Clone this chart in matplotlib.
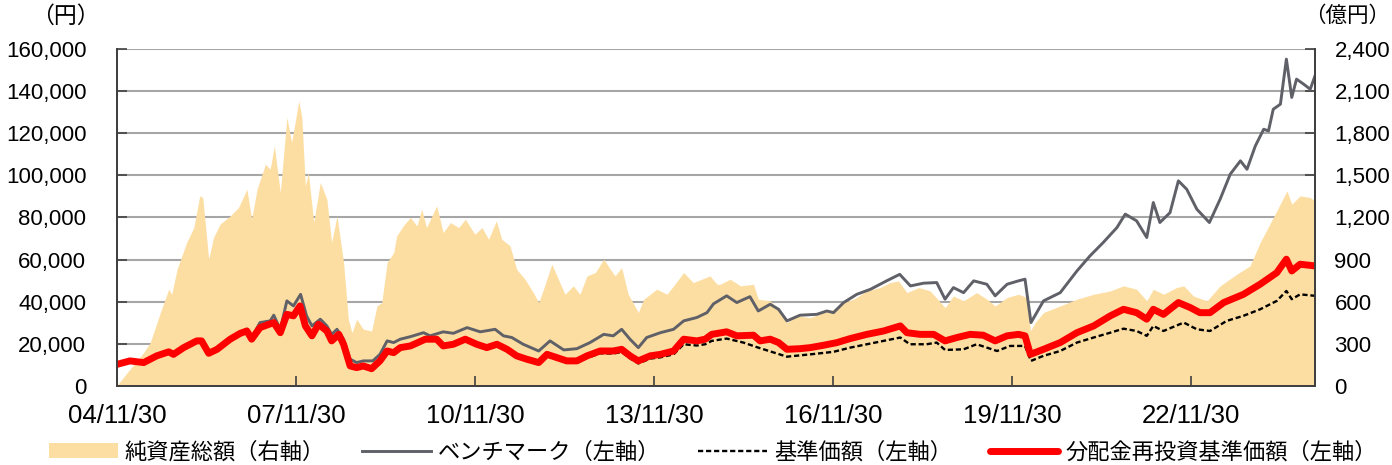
import matplotlib.pyplot as plt

plt.rcParams['font.family'] = ['Liberation Sans', 'Noto Sans CJK JP', 'DejaVu Sans']

# 純資産総額（億円）
nav_t = [2004.92, 2005.13, 2005.36, 2005.47, 2005.64, 2005.78, 2005.83, 2005.92, 2006.08, 2006.2,
         2006.3, 2006.35, 2006.45, 2006.53, 2006.64, 2006.81, 2006.95, 2007.09, 2007.17, 2007.26,
         2007.4, 2007.48, 2007.55, 2007.65, 2007.76, 2007.84, 2007.96, 2008.01, 2008.07, 2008.12,
         2008.21, 2008.32, 2008.43, 2008.51, 2008.6, 2008.71, 2008.79, 2008.85, 2008.93, 2009.04,
         2009.18, 2009.27, 2009.35, 2009.44, 2009.55, 2009.6, 2009.71, 2009.83, 2009.94, 2010.02,
         2010.1, 2010.27, 2010.38, 2010.5, 2010.64, 2010.75, 2010.91, 2011.03, 2011.14, 2011.27,
         2011.36, 2011.5, 2011.61, 2011.75, 2011.89, 2011.98, 2012.06, 2012.2, 2012.31, 2012.42,
         2012.56, 2012.67, 2012.79, 2012.93, 2013.07, 2013.18, 2013.26, 2013.37, 2013.48, 2013.65,
         2013.74, 2013.96, 2014.13, 2014.24, 2014.41, 2014.57, 2014.71, 2014.85, 2014.97, 2015.02,
         2015.19, 2015.36, 2015.58, 2015.66, 2015.86, 2016.0, 2016.14, 2016.31, 2016.53, 2016.75,
         2016.92, 2017.09, 2017.26, 2017.48, 2017.7, 2017.87, 2018.01, 2018.15, 2018.35, 2018.54,
         2018.79, 2018.93, 2019.1, 2019.32, 2019.49, 2019.63, 2019.83, 2020.02, 2020.16, 2020.22,
         2020.3, 2020.44, 2020.72, 2021.0, 2021.28, 2021.56, 2021.78, 2022.0, 2022.17, 2022.28,
         2022.45, 2022.67, 2022.79, 2022.95, 2023.18, 2023.4, 2023.68, 2023.9, 2024.07, 2024.29,
         2024.52, 2024.6, 2024.74, 2024.91, 2024.99]
nav_v = [8, 119, 238, 309, 523, 689, 653, 831, 1021, 1128,
         1354, 1342, 903, 1057, 1152, 1211, 1271, 1401, 1188, 1401,
         1579, 1544, 1710, 1378, 1912, 1734, 2031, 1912, 1425, 1520,
         1164, 1449, 1330, 1021, 1211, 879, 475, 380, 475, 404,
         392, 570, 594, 879, 950, 1069, 1140, 1200, 1140, 1259,
         1128, 1283, 1093, 1164, 1128, 1188, 1081, 1128, 1045, 1176,
         1045, 998, 831, 760, 665, 594, 689, 867, 760, 653,
         713, 653, 784, 808, 903, 831, 784, 843, 653, 523,
         618, 689, 653, 713, 808, 736, 760, 784, 724, 724,
         760, 713, 724, 618, 606, 546, 451, 499, 487, 523,
         546, 594, 618, 677, 701, 736, 748, 665, 701, 677,
         558, 641, 606, 665, 618, 570, 630, 653, 630, 392,
         451, 523, 570, 618, 653, 677, 713, 689, 606, 689,
         653, 701, 713, 641, 606, 713, 796, 855, 1021, 1199,
         1389, 1294, 1354, 1342, 1318]

# ベンチマーク（円）
bm_t = [2004.92, 2005.13, 2005.36, 2005.58, 2005.78, 2005.86, 2006.03, 2006.25, 2006.33, 2006.45,
        2006.59, 2006.81, 2006.98, 2007.09, 2007.17, 2007.31, 2007.48, 2007.54, 2007.65, 2007.76,
        2007.87, 2007.99, 2008.09, 2008.18, 2008.32, 2008.43, 2008.51, 2008.6, 2008.71, 2008.82,
        2008.93, 2009.04, 2009.2, 2009.32, 2009.44, 2009.55, 2009.66, 2009.83, 2010.05, 2010.16,
        2010.38, 2010.55, 2010.78, 2011.0, 2011.25, 2011.39, 2011.53, 2011.72, 2011.98, 2012.17,
        2012.4, 2012.62, 2012.84, 2013.07, 2013.23, 2013.37, 2013.51, 2013.65, 2013.79, 2014.02,
        2014.24, 2014.41, 2014.63, 2014.8, 2014.91, 2015.13, 2015.3, 2015.52, 2015.66, 2015.86,
        2016.0, 2016.14, 2016.36, 2016.64, 2016.81, 2016.92, 2017.09, 2017.31, 2017.54, 2017.81,
        2018.03, 2018.21, 2018.43, 2018.65, 2018.79, 2018.93, 2019.1, 2019.27, 2019.49, 2019.63,
        2019.83, 2020.02, 2020.13, 2020.23, 2020.44, 2020.72, 2021.0, 2021.22, 2021.44, 2021.67,
        2021.81, 2022.0, 2022.17, 2022.28, 2022.39, 2022.56, 2022.7, 2022.84, 2023.01, 2023.22,
        2023.4, 2023.57, 2023.74, 2023.85, 2023.99, 2024.13, 2024.21, 2024.29, 2024.41, 2024.51,
        2024.6, 2024.68, 2024.8, 2024.91, 2024.99]
bm_v = [10300, 11900, 11100, 14300, 16200, 15000, 18200, 21400, 21400, 15500,
        17400, 22500, 25500, 27000, 23000, 30100, 30900, 33600, 26900, 40400,
        38000, 43500, 33300, 28500, 31700, 28500, 24500, 26900, 22200, 12700,
        11100, 11900, 11900, 15000, 21400, 20600, 22200, 23400, 25300, 23800,
        25700, 25000, 27700, 25700, 26900, 23800, 23000, 19800, 16600, 21400,
        17100, 17700, 20600, 24500, 23800, 26900, 22200, 18200, 23000, 25300,
        26900, 30900, 32500, 34800, 39000, 42800, 39600, 42400, 35600, 38800,
        36400, 30900, 33600, 34000, 35600, 34800, 39600, 43500, 45900, 49900,
        53000, 47500, 48800, 49100, 41200, 46700, 44300, 49900, 48300, 42800,
        48300, 49900, 50700, 30100, 40400, 44300, 54600, 61800, 68100, 75200,
        81600, 78400, 70500, 87100, 77600, 82300, 97400, 93400, 83900, 77600,
        88700, 100600, 106900, 102900, 114000, 121900, 121100, 131400, 133800, 155200,
        137000, 145700, 143300, 140900, 147300]

# 基準価額（円）
nav_price_t = [2004.92, 2005.13, 2005.36, 2005.58, 2005.78, 2005.86, 2006.03, 2006.25, 2006.33, 2006.45,
               2006.59, 2006.81, 2006.98, 2007.09, 2007.17, 2007.31, 2007.54, 2007.65, 2007.76, 2007.87,
               2007.98, 2008.07, 2008.18, 2008.29, 2008.43, 2008.51, 2008.63, 2008.71, 2008.82, 2008.93,
               2009.04, 2009.18, 2009.32, 2009.44, 2009.55, 2009.66, 2009.83, 2010.08, 2010.27, 2010.38,
               2010.55, 2010.75, 2010.94, 2011.11, 2011.28, 2011.45, 2011.61, 2011.78, 2011.98, 2012.12,
               2012.28, 2012.45, 2012.62, 2012.79, 2013.01, 2013.23, 2013.37, 2013.51, 2013.65, 2013.85,
               2014.02, 2014.24, 2014.41, 2014.63, 2014.77, 2014.88, 2015.13, 2015.41, 2015.66, 2016.14,
               2016.53, 2016.92, 2017.2, 2017.48, 2017.76, 2018.04, 2018.2, 2018.48, 2018.65, 2018.79,
               2019.1, 2019.32, 2019.66, 2019.88, 2020.02, 2020.13, 2020.23, 2020.44, 2020.72, 2021.0,
               2021.28, 2021.56, 2021.78, 2022.0, 2022.17, 2022.28, 2022.45, 2022.79, 2023.01, 2023.23,
               2023.51, 2023.79, 2024.07, 2024.35, 2024.51, 2024.6, 2024.74, 2024.99]
nav_price_v = [10300, 11900, 11100, 14300, 16200, 15000, 18200, 21400, 21400, 15500,
               17400, 22200, 25000, 26100, 22200, 27700, 30100, 25300, 34000, 33300,
               38000, 28500, 23800, 29300, 26100, 21400, 24500, 19800, 9500, 8700,
               9500, 8200, 11900, 16600, 15800, 18000, 18700, 21700, 21600, 18500,
               19200, 21500, 19100, 17500, 19000, 16600, 13500, 11900, 10300, 14100,
               12600, 11000, 11000, 13300, 15500, 15400, 16100, 13100, 10700, 13000,
               13600, 15000, 19800, 19200, 19800, 21400, 22500, 20600, 18200, 13900,
               15000, 16200, 18200, 19800, 21400, 23000, 19800, 19800, 20600, 17100,
               17400, 19800, 16600, 19000, 19000, 19000, 11900, 14300, 16600, 20600,
               23000, 25300, 27200, 26100, 23800, 28500, 26100, 30100, 26900, 26100,
               30900, 33300, 36400, 40400, 45100, 41200, 43500, 42800]

# 分配金再投資基準価額（円）
reinv_t = [2004.92, 2005.13, 2005.36, 2005.58, 2005.78, 2005.86, 2006.03, 2006.25, 2006.33, 2006.45,
           2006.59, 2006.81, 2006.98, 2007.09, 2007.17, 2007.31, 2007.54, 2007.65, 2007.76, 2007.87,
           2007.98, 2008.07, 2008.18, 2008.29, 2008.43, 2008.51, 2008.63, 2008.71, 2008.82, 2008.93,
           2009.04, 2009.18, 2009.32, 2009.44, 2009.55, 2009.66, 2009.83, 2010.08, 2010.27, 2010.38,
           2010.55, 2010.75, 2010.94, 2011.11, 2011.28, 2011.45, 2011.61, 2011.78, 2011.98, 2012.12,
           2012.28, 2012.45, 2012.62, 2012.79, 2013.01, 2013.23, 2013.37, 2013.51, 2013.65, 2013.85,
           2014.02, 2014.24, 2014.41, 2014.63, 2014.77, 2014.88, 2015.13, 2015.3, 2015.58, 2015.69,
           2015.86, 2016.0, 2016.14, 2016.36, 2016.53, 2016.75, 2016.98, 2017.2, 2017.48, 2017.76,
           2018.04, 2018.15, 2018.37, 2018.6, 2018.79, 2018.99, 2019.21, 2019.43, 2019.63, 2019.83,
           2020.02, 2020.13, 2020.22, 2020.44, 2020.72, 2021.0, 2021.28, 2021.56, 2021.78, 2022.0,
           2022.17, 2022.28, 2022.45, 2022.7, 2022.9, 2023.06, 2023.23, 2023.46, 2023.79, 2024.07,
           2024.35, 2024.51, 2024.6, 2024.74, 2024.99]
reinv_v = [10300, 11900, 11100, 14300, 16200, 15000, 18200, 21400, 21400, 15500,
           17400, 22200, 25000, 26100, 22200, 27700, 30100, 25300, 34000, 33300,
           38000, 28500, 23800, 29300, 26100, 21400, 24500, 19800, 9500, 8700,
           9500, 8200, 11900, 16600, 15800, 18200, 19000, 22200, 22200, 19000,
           19800, 22200, 19800, 18200, 19800, 17400, 14300, 12700, 11100, 15000,
           13500, 11900, 11900, 14300, 16600, 16600, 17400, 14300, 11900, 14300,
           15000, 16600, 22200, 21400, 22200, 24500, 25700, 23800, 24100, 21400,
           22200, 20600, 17400, 17700, 18200, 19300, 20600, 22500, 24500, 26100,
           28500, 25300, 24500, 24500, 21400, 23000, 24500, 24100, 21400, 23800,
           24500, 23800, 15000, 17400, 20600, 25300, 28500, 33300, 36400, 34800,
           31700, 36400, 34000, 39600, 37200, 34800, 34800, 39600, 43500, 48300,
           53800, 60200, 54600, 57800, 57000]

tick_years = [2004.912, 2007.912, 2010.912, 2013.912, 2016.912, 2019.912, 2022.912]
tick_labels = ['04/11/30', '07/11/30', '10/11/30', '13/11/30', '16/11/30', '19/11/30', '22/11/30']

jp = ['Noto Sans CJK JP', 'DejaVu Sans']

fig = plt.figure(figsize=(13.92, 4.65), dpi=100)
ax = fig.add_axes([0.084, 0.17, 0.8607, 0.7246])   # left axis (円), lines
ax2 = ax.twinx()                                   # right axis (億円), area
ax.set_zorder(ax2.get_zorder() + 1)
ax.patch.set_visible(False)

# area on the right axis, gridlines behind it
ax2.fill_between(nav_t, nav_v, color='#FDDEA2', lw=0, label='純資産総額（右軸）')
ax2.set_ylim(0, 2400)
ax2.set_yticks(range(0, 2401, 300))
ax2.set_yticklabels([f'{v:,}' for v in range(0, 2401, 300)])
ax2.set_axisbelow(True)
ax2.yaxis.grid(True, color='#A6A6A6', lw=1.5)

ax.plot(bm_t, bm_v, color='#5F6068', lw=2.1, label='ベンチマーク（左軸）')
ax.plot(nav_price_t, nav_price_v, color='black', lw=1.7, ls=(0, (2.2, 1.2)), label='基準価額（左軸）')
ax.plot(reinv_t, reinv_v, color='#FF0000', lw=5, solid_capstyle='round', solid_joinstyle='round',
        label='分配金再投資基準価額（左軸）')
ax.set_ylim(0, 160000)
ax.set_yticks(range(0, 160001, 20000))
ax.set_yticklabels([f'{v:,}' for v in range(0, 160001, 20000)])
ax.set_xlim(2004.912, 2024.99)
ax.set_xticks(tick_years)
ax.set_xticklabels(tick_labels)

for a in (ax, ax2):
    a.tick_params(direction='in', length=7, width=1.2, colors='#404040', labelcolor='black', labelsize=16)
    for s in ('left', 'right', 'bottom'):
        a.spines[s].set_color('#404040')
        a.spines[s].set_linewidth(1.3)
    a.spines['top'].set_visible(False)
ax.tick_params(axis='y', pad=22)
ax2.tick_params(axis='y', pad=14)
ax.tick_params(axis='x', pad=13, labelsize=18.5)

fig.text(0.047, 0.965, '（円）', fontsize=16.5, family=jp, ha='center', va='center')
fig.text(0.968, 0.965, '（億円）', fontsize=15.5, family=jp, ha='center', va='center')

h2, l2 = ax2.get_legend_handles_labels()
h1, l1 = ax.get_legend_handles_labels()
fig.legend(h2 + h1, l2 + l1, loc='center', bbox_to_anchor=(0.512, 0.028), ncol=4, frameon=False,
           prop={'family': jp, 'size': 16}, handlelength=3.1,
           columnspacing=1.7, handletextpad=0.3, borderaxespad=0)

fig.savefig('out.png', dpi=100)
